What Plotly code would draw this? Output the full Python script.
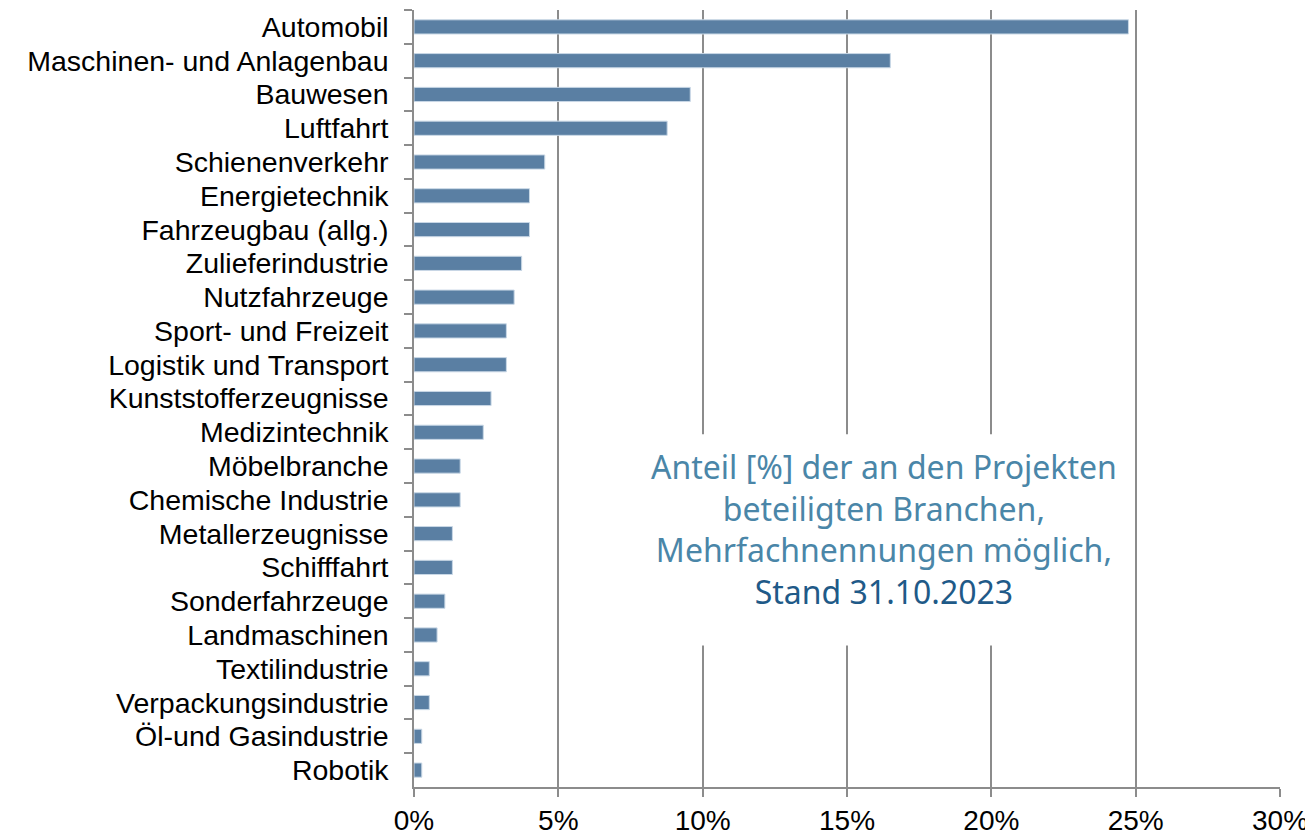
import plotly.graph_objects as go

categories = [
    "Automobil", "Maschinen- und Anlagenbau", "Bauwesen", "Luftfahrt",
    "Schienenverkehr", "Energietechnik", "Fahrzeugbau (allg.)", "Zulieferindustrie",
    "Nutzfahrzeuge", "Sport- und Freizeit", "Logistik und Transport",
    "Kunststofferzeugnisse", "Medizintechnik", "Möbelbranche", "Chemische Industrie",
    "Metallerzeugnisse", "Schifffahrt", "Sonderfahrzeuge", "Landmaschinen",
    "Textilindustrie", "Verpackungsindustrie", "Öl-und Gasindustrie", "Robotik",
]
values = [24.75, 16.5, 9.57, 8.77, 4.53, 4.0, 4.0, 3.73, 3.47, 3.2, 3.2,
          2.67, 2.4, 1.6, 1.6, 1.33, 1.33, 1.07, 0.8, 0.53, 0.53, 0.27, 0.27]
x_ticks = [0, 5, 10, 15, 20, 25, 30]
x_ticklabels = ["0%", "5%", "10%", "15%", "20%", "25%", "30%"]

note_lines = ["Anteil [%] der an den Projekten", "beteiligten Branchen,",
              "Mehrfachnennungen möglich,"]
note_last = "Stand 31.10.2023"

fig = go.Figure(go.Bar(
    x=values, y=categories, orientation="h",
    marker=dict(color="#5a7fa3", line=dict(color="#c9d8e6", width=1)),
    width=0.42,
    hoverinfo="x+y",
))

grey = "#8c8c8c"
fig.update_layout(
    width=1305, height=830,
    margin=dict(l=406, r=33, t=2, b=40),
    plot_bgcolor="white", paper_bgcolor="white",
    showlegend=False,
    font=dict(family="Liberation Sans, Arial, sans-serif", color="black"),
    xaxis=dict(
        range=[0, 30], tickvals=x_ticks, ticktext=x_ticklabels,
        showgrid=True, gridcolor=grey, gridwidth=1.5,
        showline=True, linecolor=grey, linewidth=1.5,
        ticks="outside", ticklen=8, tickcolor=grey, tickwidth=1.5,
        tickfont=dict(size=28), zeroline=False,
    ),
    yaxis=dict(
        autorange="reversed", categoryorder="array", categoryarray=categories,
        tickmode="linear", tick0=0, dtick=1,
        showline=True, linecolor=grey, linewidth=1.5,
        ticks="outside", ticklen=8, tickcolor=grey, tickwidth=1.5,
        tickson="boundaries", tickfont=dict(size=28.5), showgrid=False,
        ticklabelstandoff=18,
    ),
)

# white box behind the note (hides gridlines)
fig.add_shape(type="rect", xref="paper", yref="paper",
              x0=0.215, x1=0.827, y0=0.182, y1=0.454,
              fillcolor="white", line=dict(width=0), layer="above")
fig.add_shape(type="rect", xref="paper", yref="paper",
              x0=0.84, x1=0.86, y0=0.266, y1=0.632,
              fillcolor="rgba(255,255,255,0.45)", line=dict(width=0), layer="above")

text = "<br>".join(note_lines) + "<br><span style='color:#1f5a88'>" + note_last + "</span>"
fig.add_annotation(
    xref="paper", yref="paper", x=0.543, y=0.332,
    text=text, showarrow=False, align="center",
    xanchor="center", yanchor="middle",
    font=dict(family="Noto Sans, sans-serif", size=32, color="#4a86a8"),
)

fig.write_html("out.html")
